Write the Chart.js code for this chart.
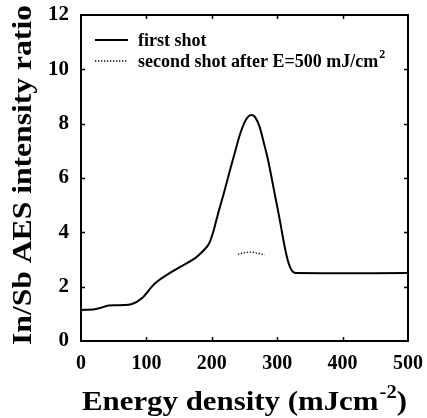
<!DOCTYPE html>
<html>
<head>
<meta charset="utf-8">
<script src="https://cdn.jsdelivr.net/npm/chart.js@4/dist/chart.umd.min.js"></script>
<style>
html,body{margin:0;padding:0;background:#fff;}
#wrap{width:427px;height:418px;}
</style>
</head>
<body>
<div id="wrap"><canvas id="c" width="427" height="418"></canvas></div>
<script>
// Data
const firstShotE = [0, 21, 30, 42, 60, 77, 93, 113, 143, 174, 192, 197, 202, 207, 212, 218, 228, 236, 243, 250, 256, 261, 266, 273, 280, 286, 296, 304, 311, 316, 320, 324, 329, 500];
const firstShotR = [1.14, 1.17, 1.22, 1.31, 1.32, 1.35, 1.57, 2.12, 2.61, 3.04, 3.45, 3.65, 4.0, 4.45, 4.9, 5.4, 6.3, 7.0, 7.6, 8.05, 8.27, 8.32, 8.25, 7.89, 7.25, 6.66, 5.44, 4.45, 3.52, 2.98, 2.7, 2.55, 2.5, 2.5];
const secondShotE = [240, 246, 252, 258, 264, 270, 276, 281];
const secondShotR = [3.19, 3.23, 3.26, 3.27, 3.26, 3.23, 3.2, 3.18];
const xTicks = [0, 100, 200, 300, 400, 500];
const yTicks = [0, 2, 4, 6, 8, 10, 12];
const legendLabels = ["first shot", "second shot after E=500 mJ/cm"];
const xTitle = "Energy density (mJcm";
const yTitle = "In/Sb AES intensity ratio";

const FONT = "'Liberation Serif', 'Times New Roman', serif";

const toPts = (xs, ys) => xs.map((x, i) => ({x: x, y: ys[i]}));

const decor = {
  id: 'decor',
  afterDraw(chart) {
    const ctx = chart.ctx;
    const a = chart.chartArea;
    const xs = chart.scales.x, ys = chart.scales.y;
    ctx.save();
    // frame
    ctx.strokeStyle = '#000';
    ctx.lineWidth = 2;
    ctx.strokeRect(a.left, a.top, a.right - a.left, a.bottom - a.top);
    // inward ticks
    ctx.lineWidth = 1.5;
    const tl = 4;
    xTicks.slice(1, -1).forEach(v => {
      const px = Math.round(xs.getPixelForValue(v)) + 0.5;
      ctx.beginPath();
      ctx.moveTo(px, a.bottom); ctx.lineTo(px, a.bottom - tl);
      ctx.moveTo(px, a.top); ctx.lineTo(px, a.top + tl);
      ctx.stroke();
    });
    yTicks.slice(1, -1).forEach(v => {
      const py = Math.round(ys.getPixelForValue(v)) + 0.5;
      ctx.beginPath();
      ctx.moveTo(a.left, py); ctx.lineTo(a.left + tl, py);
      ctx.moveTo(a.right, py); ctx.lineTo(a.right - tl, py);
      ctx.stroke();
    });
    ctx.fillStyle = '#000';
    // legend
    ctx.lineWidth = 2;
    ctx.setLineDash([]);
    ctx.beginPath(); ctx.moveTo(95, 40); ctx.lineTo(128, 40); ctx.stroke();
    ctx.lineWidth = 1.3;
    ctx.setLineDash([1.3, 1.7]);
    ctx.beginPath(); ctx.moveTo(95, 61); ctx.lineTo(128, 61); ctx.stroke();
    ctx.setLineDash([]);
    ctx.font = "bold 18px " + FONT;
    ctx.textAlign = 'left';
    ctx.textBaseline = 'alphabetic';
    ctx.fillText(legendLabels[0], 138, 46);
    ctx.fillText(legendLabels[1], 138, 67);
    let w = ctx.measureText(legendLabels[1]).width;
    ctx.font = "bold 12px " + FONT;
    ctx.fillText("2", 138 + w + 1, 58);

    // x title with superscript, stretched to target width
    const big = "bold 27px " + FONT, sup = "bold 18px " + FONT;
    ctx.font = big;
    const w1 = ctx.measureText(xTitle).width;
    const w3 = ctx.measureText(")").width;
    ctx.font = sup;
    const w2 = ctx.measureText("-2").width;
    const total = w1 + w2 + w3 + 1;
    const tx0 = 82, tx1 = 407;
    const sx = (tx1 - tx0) / total;
    ctx.save();
    ctx.translate(tx0, 410);
    ctx.scale(sx, 1);
    ctx.font = big;
    ctx.fillText(xTitle, 0, 0);
    ctx.font = sup;
    ctx.fillText("-2", w1 + 1, -12);
    ctx.font = big;
    ctx.fillText(")", w1 + w2 + 1, 0);
    ctx.restore();

    // y title rotated
    ctx.save();
    ctx.font = big;
    const wy = ctx.measureText(yTitle).width;
    const sy = (345 - 5) / wy;
    ctx.translate(31, 345);
    ctx.rotate(-Math.PI / 2);
    ctx.scale(sy, 1);
    ctx.fillText(yTitle, 0, 0);
    ctx.restore();

    ctx.restore();
  }
};

new Chart(document.getElementById('c'), {
  type: 'line',
  data: {
    datasets: [
      {
        label: legendLabels[0],
        data: toPts(firstShotE, firstShotR),
        borderColor: '#000',
        borderWidth: 2,
        pointRadius: 0,
        tension: 0.3,
        fill: false
      },
      {
        label: legendLabels[1],
        data: toPts(secondShotE, secondShotR),
        borderColor: '#000',
        borderWidth: 1.3,
        borderDash: [1.3, 1.7],
        pointRadius: 0,
        tension: 0.3,
        fill: false
      }
    ]
  },
  options: {
    responsive: false,
    animation: false,
    devicePixelRatio: 1,
    layout: {padding: {left: 0, top: 15, right: 19, bottom: 0}},
    plugins: {legend: {display: false}, tooltip: {enabled: false}},
    scales: {
      x: {
        type: 'linear', min: 0, max: 500,
        afterFit: s => { s.height = 77; s.paddingLeft = 0; s.paddingRight = 0; },
        afterBuildTicks: s => { s.ticks = xTicks.map(v => ({value: v})); },
        grid: {display: false, drawTicks: false},
        border: {display: false},
        ticks: {color: '#000', font: {family: FONT, size: 20, weight: 'bold'}, padding: 11, maxRotation: 0}
      },
      y: {
        type: 'linear', min: 0, max: 12,
        afterFit: s => { s.width = 81; s.paddingTop = 0; s.paddingBottom = 0; },
        afterBuildTicks: s => { s.ticks = yTicks.map(v => ({value: v})); },
        grid: {display: false, drawTicks: false},
        border: {display: false},
        ticks: {color: '#000', font: {family: FONT, size: 21, weight: 'bold'}, padding: 12}
      }
    }
  },
  plugins: [decor]
});
</script>
</body>
</html>
